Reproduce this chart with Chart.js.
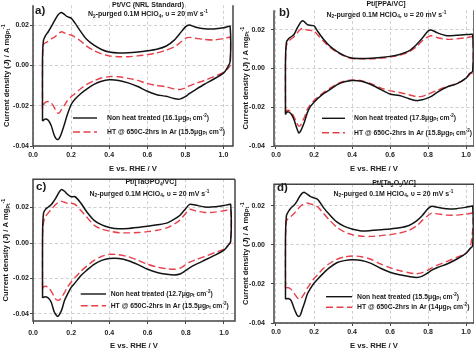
<!DOCTYPE html>
<html>
<head>
<meta charset="utf-8">
<script src="https://cdn.jsdelivr.net/npm/chart.js@4.4.1/dist/chart.umd.min.js"></script>
<style>
  html, body { margin: 0; padding: 0; background: #fff; }
  #wrap { position: relative; width: 474px; height: 349px; overflow: hidden; background: #fff; }
  #wrap canvas { position: absolute; }
</style>
</head>
<body>
<div id="wrap">
  <canvas id="pa" width="237" height="174" style="left:0px;top:0px"></canvas>
  <canvas id="pb" width="237" height="174" style="left:237px;top:0px"></canvas>
  <canvas id="pc" width="237" height="175" style="left:0px;top:174px"></canvas>
  <canvas id="pd" width="237" height="175" style="left:237px;top:174px"></canvas>
</div>
<script>
// Potential grid (V vs RHE) shared by the anodic and cathodic sweeps
const potential = [0.05, 0.055, 0.065, 0.08, 0.095, 0.11, 0.12, 0.13, 0.14, 0.15, 0.165, 0.18, 0.2, 0.22, 0.25, 0.28, 0.32, 0.36, 0.4, 0.45, 0.5, 0.55, 0.6, 0.65, 0.7, 0.74, 0.77, 0.8, 0.82, 0.85, 0.9, 0.95, 1.0, 1.02, 1.035];

// Current density (A mg_Pt^-1): anodic (positive-going) and cathodic (negative-going) sweeps
// Pt/VC (NRL Standard)
const vcNhtAnodic   = [0.004, 0.0125, 0.0148, 0.0168, 0.0192, 0.0218, 0.0235, 0.025, 0.026, 0.0264, 0.0254, 0.0243, 0.0236, 0.0212, 0.017, 0.0132, 0.0101, 0.008, 0.0067, 0.0062, 0.0063, 0.0067, 0.0073, 0.0081, 0.0097, 0.0125, 0.0158, 0.0192, 0.0201, 0.0192, 0.0183, 0.0182, 0.0188, 0.0193, 0.0195];
const vcNhtCathodic = [-0.0276, -0.0272, -0.0266, -0.0272, -0.0297, -0.0343, -0.0362, -0.0368, -0.0358, -0.0335, -0.0292, -0.0245, -0.0195, -0.0168, -0.014, -0.0118, -0.0094, -0.0078, -0.0071, -0.0074, -0.0086, -0.0104, -0.0128, -0.0145, -0.0153, -0.0164, -0.0167, -0.0155, -0.014, -0.0122, -0.0093, -0.0067, -0.0038, -0.0012, 0.002];
const vcHtAnodic    = [0.002, 0.0105, 0.0113, 0.012, 0.0132, 0.014, 0.0147, 0.0157, 0.0164, 0.0168, 0.0162, 0.0155, 0.0152, 0.0142, 0.0122, 0.0098, 0.0074, 0.0058, 0.0048, 0.0044, 0.0044, 0.0048, 0.0054, 0.0063, 0.0077, 0.0092, 0.0112, 0.0135, 0.014, 0.0136, 0.013, 0.0127, 0.0134, 0.0138, 0.0141];
const vcHtCathodic  = [-0.0215, -0.0195, -0.0183, -0.0179, -0.0185, -0.0205, -0.0225, -0.0237, -0.0233, -0.0218, -0.0198, -0.0175, -0.0155, -0.014, -0.0115, -0.0095, -0.0076, -0.0062, -0.0055, -0.0056, -0.0064, -0.0074, -0.009, -0.0099, -0.0106, -0.0116, -0.0119, -0.0111, -0.0101, -0.009, -0.0074, -0.0055, -0.0034, -0.0018, 0.0];

// Pt/[PPA/VC]
const ppaNhtAnodic   = [0.004, 0.0135, 0.0152, 0.0163, 0.0175, 0.0205, 0.0222, 0.0238, 0.0246, 0.024, 0.0226, 0.0222, 0.022, 0.019, 0.015, 0.0118, 0.0088, 0.0066, 0.0054, 0.0051, 0.0052, 0.0056, 0.0062, 0.0072, 0.009, 0.0123, 0.0156, 0.0192, 0.0197, 0.0183, 0.0168, 0.0171, 0.0175, 0.0175, 0.0175];
const ppaNhtCathodic = [-0.0238, -0.0228, -0.0224, -0.0235, -0.0265, -0.031, -0.0333, -0.0322, -0.03, -0.0275, -0.0228, -0.0198, -0.0175, -0.0155, -0.013, -0.0112, -0.0085, -0.0069, -0.0062, -0.0066, -0.0083, -0.0108, -0.0132, -0.014, -0.0156, -0.0166, -0.0162, -0.0152, -0.0143, -0.0122, -0.0096, -0.008, -0.005, -0.0025, -0.0015];
const ppaHtAnodic    = [0.003, 0.0118, 0.0138, 0.0152, 0.0163, 0.018, 0.0193, 0.0202, 0.0206, 0.0203, 0.0197, 0.0196, 0.0193, 0.0172, 0.014, 0.0112, 0.0084, 0.0063, 0.0051, 0.0049, 0.0049, 0.0053, 0.0059, 0.0068, 0.0085, 0.0112, 0.0143, 0.0163, 0.0168, 0.0158, 0.015, 0.0152, 0.0158, 0.0162, 0.0163];
const ppaHtCathodic  = [-0.023, -0.022, -0.0216, -0.0225, -0.025, -0.0282, -0.0297, -0.0292, -0.027, -0.025, -0.021, -0.0188, -0.0165, -0.0148, -0.0124, -0.0105, -0.008, -0.0066, -0.0059, -0.0063, -0.0079, -0.01, -0.0116, -0.0124, -0.0136, -0.0145, -0.0144, -0.0133, -0.0125, -0.0112, -0.0094, -0.0078, -0.0052, -0.003, -0.0022];

// Pt/[TaOPO4/VC]
const taopoNhtAnodic   = [0.005, 0.0168, 0.019, 0.0203, 0.0216, 0.0238, 0.0255, 0.0275, 0.0292, 0.0302, 0.0292, 0.0275, 0.0261, 0.0261, 0.0226, 0.0178, 0.0128, 0.0102, 0.0088, 0.008, 0.0082, 0.0088, 0.0095, 0.0103, 0.0112, 0.0135, 0.0157, 0.0195, 0.0218, 0.0214, 0.0203, 0.0204, 0.0212, 0.0216, 0.0217];
const taopoNhtCathodic = [-0.031, -0.0306, -0.0303, -0.031, -0.0333, -0.0385, -0.0405, -0.0414, -0.04, -0.0378, -0.0325, -0.029, -0.025, -0.0225, -0.0185, -0.0155, -0.012, -0.0098, -0.0088, -0.0088, -0.01, -0.0122, -0.0148, -0.0166, -0.0176, -0.018, -0.0175, -0.0155, -0.014, -0.0122, -0.0096, -0.007, -0.004, -0.0015, 0.001];
const taopoHtAnodic    = [0.003, 0.0115, 0.015, 0.017, 0.019, 0.0207, 0.0218, 0.0228, 0.0233, 0.0235, 0.023, 0.0224, 0.0224, 0.0218, 0.0185, 0.0148, 0.01, 0.0078, 0.0067, 0.0058, 0.0057, 0.0059, 0.0064, 0.0072, 0.0085, 0.0107, 0.013, 0.0168, 0.019, 0.0182, 0.0172, 0.0174, 0.0182, 0.0187, 0.0188];
const taopoHtCathodic  = [-0.0258, -0.0248, -0.0244, -0.025, -0.0272, -0.03, -0.0318, -0.0323, -0.032, -0.0305, -0.028, -0.025, -0.022, -0.0195, -0.016, -0.0132, -0.0098, -0.0075, -0.0064, -0.0066, -0.0078, -0.0098, -0.012, -0.0136, -0.0145, -0.0148, -0.0142, -0.0122, -0.0108, -0.0095, -0.0076, -0.0055, -0.0035, -0.0015, 0.0005];

// Pt/[Ta2O5/VC]
const ta2o5NhtAnodic   = [0.004, 0.015, 0.017, 0.019, 0.0202, 0.0222, 0.024, 0.0255, 0.0265, 0.0268, 0.0258, 0.0248, 0.024, 0.0232, 0.019, 0.0156, 0.0117, 0.0094, 0.0081, 0.0071, 0.0073, 0.0077, 0.0081, 0.0087, 0.0099, 0.0122, 0.015, 0.0185, 0.0197, 0.0192, 0.0184, 0.0185, 0.0192, 0.0196, 0.0198];
const ta2o5NhtCathodic = [-0.0278, -0.0276, -0.0275, -0.0285, -0.0325, -0.0358, -0.0367, -0.0355, -0.0325, -0.0298, -0.0252, -0.0225, -0.0197, -0.0175, -0.0145, -0.0118, -0.0092, -0.0081, -0.0077, -0.008, -0.0095, -0.012, -0.014, -0.0153, -0.0162, -0.0167, -0.016, -0.0143, -0.013, -0.0116, -0.0098, -0.0074, -0.0044, -0.002, -0.0005];
const ta2o5HtAnodic    = [0.003, 0.0122, 0.0135, 0.0146, 0.016, 0.0176, 0.0188, 0.0198, 0.0206, 0.021, 0.0214, 0.0209, 0.0204, 0.0194, 0.016, 0.0128, 0.009, 0.0066, 0.0052, 0.0044, 0.0043, 0.0047, 0.0052, 0.006, 0.0074, 0.0097, 0.0125, 0.015, 0.0162, 0.0158, 0.0152, 0.0152, 0.0157, 0.016, 0.0162];
const ta2o5HtCathodic  = [-0.0222, -0.022, -0.0219, -0.0228, -0.0248, -0.0268, -0.0277, -0.0276, -0.0263, -0.0248, -0.0222, -0.02, -0.0172, -0.0152, -0.012, -0.0097, -0.0074, -0.0062, -0.0057, -0.0061, -0.0074, -0.0098, -0.0117, -0.0132, -0.0143, -0.0148, -0.0142, -0.0129, -0.0118, -0.0104, -0.0085, -0.0065, -0.0042, -0.0022, 0.0075];

// Pt loadings (ug_Pt cm^-2) quoted in the legends
const nhtLoading = ['16.1', '17.8', '12.7', '15.5'];
const htLoading  = ['15.5', '15.8', '15.5', '14'];

// Tick values
const potentialTicks = [0.0, 0.2, 0.4, 0.6, 0.8, 1.0];
const currentTicks   = [-0.04, -0.02, 0.0, 0.02];

// Catalyst names as rich-text runs: [text, kind]
const catalystNames = [
  [['Pt/VC (NRL Standard)', 'n']],
  [['Pt/[PPA/VC]', 'n']],
  [['Pt/[TaOPO', 'n'], ['4', 'sub'], ['/VC]', 'n']],
  [['Pt/[Ta', 'n'], ['2', 'sub'], ['O', 'n'], ['5', 'sub'], ['/VC]', 'n']]
];
const panelTags = ['a)', 'b)', 'c)', 'd)'];
const conditions = [['N', 'n'], ['2', 'sub'], ['-purged 0.1M HClO', 'n'], ['4', 'sub'], [', \u03c5 = 20 mV s', 'n'], ['-1', 'sup']];
const yTitle = [['Current density (', 'n'], ['J', 'i'], [') / A mg', 'n'], ['Pt', 'sub'], ['-1', 'sup']];

// Closed voltammogram: lower-left corner, anodic sweep, then cathodic sweep back
function cvLoop(anodic, cathodic) {
  const pts = [{ x: potential[0], y: cathodic[0] }];
  for (let i = 0; i < potential.length; i++) pts.push({ x: potential[i], y: anodic[i] });
  for (let i = potential.length - 1; i >= 0; i--) pts.push({ x: potential[i], y: cathodic[i] });
  return pts;
}

const FONT = '"Liberation Sans", Arial, Helvetica, sans-serif';
const BLACK = '#141414';
const RED = '#e8404a';
const RED_DASH = [7, 3.5];

function runFont(kind, size) {
  const s = (kind === 'sub' || kind === 'sup') ? size * 0.68 : size;
  return (kind === 'i' ? 'italic ' : '') + 'bold ' + s + 'px ' + FONT;
}
function drawRich(ctx, runs, x, y, size, align) {
  let w = 0;
  runs.forEach(([t, k]) => { ctx.font = runFont(k, size); w += ctx.measureText(t).width; });
  let cx = align === 'center' ? x - w / 2 : x;
  ctx.textAlign = 'left';
  ctx.textBaseline = 'middle';
  runs.forEach(([t, k]) => {
    ctx.font = runFont(k, size);
    const dy = k === 'sub' ? size * 0.28 : (k === 'sup' ? -size * 0.36 : 0);
    ctx.fillText(t, cx, y + dy);
    cx += ctx.measureText(t).width;
  });
}

// Panel layout (page coordinates for annotations)
const panels = [
  { id: 'pa', ox: 0, oy: 0, pad: { left: 0, top: 0, right: 4, bottom: 0 }, yW: 33, xH: 28, topEdge: false,
    xMin: 0, xMax: 1.05, yMin: -0.04, yMax: 0.03, yTickPad: 1, xTickPad: 2, xTitlePad: 0,
    nht: [vcNhtAnodic, vcNhtCathodic], ht: [vcHtAnodic, vcHtCathodic],
    tag: [35, 11], name: [148, 5], cond: [148, 14.5], yTitleX: 6.5,
    legend: { x1: 73, x2: 97, tx: 107, y1: 118, y2: 132 } },
  { id: 'pb', ox: 237, oy: 0, pad: { left: 0, top: 0, right: 0, bottom: 0 }, yW: 37, xH: 28, topEdge: false,
    xMin: -0.0105, xMax: 1.042, yMin: -0.04, yMax: 0.03, yTickPad: 6, xTickPad: 2, xTitlePad: 0,
    nht: [ppaNhtAnodic, ppaNhtCathodic], ht: [ppaHtAnodic, ppaHtCathodic],
    tag: [279, 12.5], name: [386, 4.5], cond: [386.5, 15], yTitleX: 245.5,
    legend: { x1: 322, x2: 345, tx: 354, y1: 118.3, y2: 132.7 } },
  { id: 'pc', ox: 0, oy: 174, pad: { left: 0, top: 1, right: 2, bottom: 0 }, yW: 33, xH: 28, topEdge: true,
    xMin: 0, xMax: 1.0576, yMin: -0.044, yMax: 0.036, yTickPad: 1, xTickPad: 5, xTitlePad: -2,
    nht: [taopoNhtAnodic, taopoNhtCathodic], ht: [taopoHtAnodic, taopoHtCathodic],
    tag: [36, 187], name: [151, 182.3], cond: [149.5, 194], yTitleX: 6,
    legend: { x1: 80.7, x2: 106, tx: 110.7, y1: 294, y2: 305.7 } },
  { id: 'pd', ox: 237, oy: 174, pad: { left: 0, top: 0, right: 0, bottom: 0 }, yW: 37, xH: 26, topEdge: true,
    xMin: -0.0105, xMax: 1.042, yMin: -0.04, yMax: 0.031, yTickPad: 6, xTickPad: 2, xTitlePad: -2,
    nht: [ta2o5NhtAnodic, ta2o5NhtCathodic], ht: [ta2o5HtAnodic, ta2o5HtCathodic],
    tag: [277, 187.5], name: [394, 183.3], cond: [393.5, 194], yTitleX: 245.5,
    legend: { x1: 326, x2: 352, tx: 357, y1: 296.7, y2: 307.3 } }
];

panels.forEach((p, idx) => {
  const decor = {
    id: 'decor',
    afterDatasetsDraw(chart) {
      const ctx = chart.ctx;
      const a = chart.chartArea;
      ctx.save();
      // plot frame
      ctx.strokeStyle = '#444';
      ctx.lineWidth = 1.5;
      ctx.setLineDash([]);
      ctx.beginPath();
      if (p.topEdge) {
        ctx.moveTo(a.right, a.top); ctx.lineTo(a.left, a.top);
      } else {
        ctx.moveTo(a.left, a.top);
      }
      ctx.lineTo(a.left, a.bottom);
      ctx.lineTo(a.right, a.bottom);
      ctx.lineTo(a.right, a.top);
      ctx.stroke();
      ctx.translate(-p.ox, -p.oy);
      ctx.fillStyle = '#1a1a1a';
      // panel tag
      ctx.font = 'bold 11.5px ' + FONT;
      ctx.textAlign = 'left';
      ctx.textBaseline = 'middle';
      ctx.fillText(panelTags[idx], p.tag[0], p.tag[1]);
      // catalyst and conditions
      drawRich(ctx, catalystNames[idx], p.name[0], p.name[1], 7, 'center');
      drawRich(ctx, conditions, p.cond[0], p.cond[1], 7, 'center');
      // legend
      const L = p.legend;
      ctx.lineWidth = 1.4;
      ctx.strokeStyle = BLACK;
      ctx.beginPath(); ctx.moveTo(L.x1, L.y1); ctx.lineTo(L.x2, L.y1); ctx.stroke();
      ctx.strokeStyle = RED;
      ctx.setLineDash(RED_DASH);
      ctx.beginPath(); ctx.moveTo(L.x1, L.y2); ctx.lineTo(L.x2, L.y2); ctx.stroke();
      ctx.setLineDash([]);
      drawRich(ctx, [['Non heat treated (' + nhtLoading[idx] + '\u03bcg', 'n'], ['Pt', 'sub'], [' cm', 'n'], ['-2', 'sup'], [')', 'n']], L.tx, L.y1, 6.8, 'left');
      drawRich(ctx, [['HT @ 650C-2hrs in Ar (' + htLoading[idx] + '\u03bcg', 'n'], ['Pt', 'sub'], [' cm', 'n'], ['-2', 'sup'], [')', 'n']], L.tx, L.y2, 6.8, 'left');
      // y-axis title
      const cy = p.oy + (a.top + a.bottom) / 2;
      ctx.translate(p.yTitleX, cy);
      ctx.rotate(-Math.PI / 2);
      drawRich(ctx, yTitle, 0, 0, 7.6, 'center');
      ctx.restore();
    }
  };

  new Chart(document.getElementById(p.id), {
    type: 'line',
    data: {
      datasets: [
        { label: 'Non heat treated', data: cvLoop(p.nht[0], p.nht[1]), borderColor: BLACK, borderWidth: 1.5, pointRadius: 0, fill: false, tension: 0.25 },
        { label: 'HT @ 650C-2hrs in Ar', data: cvLoop(p.ht[0], p.ht[1]), borderColor: RED, borderWidth: 1.4, borderDash: RED_DASH, pointRadius: 0, fill: false, tension: 0.25 }
      ]
    },
    options: {
      responsive: false,
      animation: false,
      devicePixelRatio: 1,
      layout: { padding: p.pad, autoPadding: false },
      plugins: { legend: { display: false }, tooltip: { enabled: false } },
      scales: {
        x: {
          type: 'linear', min: p.xMin, max: p.xMax,
          afterFit(s) { s.height = p.xH; },
          afterBuildTicks(s) { s.ticks = potentialTicks.map(v => ({ value: v })); },
          grid: { color: '#cfcfcf', lineWidth: 1, tickLength: 3, tickColor: '#444', tickWidth: 1, tickBorderDash: [] },
          border: { display: false, dash: [3, 2.5] },
          ticks: { autoSkip: false, maxRotation: 0, padding: p.xTickPad, color: '#222',
                   font: { family: FONT, size: 7, weight: 'bold' }, callback: v => v.toFixed(1) },
          title: { display: true, text: 'E vs. RHE / V', color: '#222', padding: { top: 0, bottom: p.xTitlePad },
                   font: { family: FONT, size: 7.7, weight: 'bold', lineHeight: 1.2 } }
        },
        y: {
          type: 'linear', min: p.yMin, max: p.yMax,
          afterFit(s) { s.width = p.yW; },
          afterBuildTicks(s) { s.ticks = currentTicks.map(v => ({ value: v })); },
          grid: { color: '#cfcfcf', lineWidth: 1, tickLength: 3, tickColor: '#444', tickWidth: 1, tickBorderDash: [] },
          border: { display: false, dash: [3, 2.5] },
          ticks: { autoSkip: false, padding: p.yTickPad, color: '#222',
                   font: { family: FONT, size: 7, weight: 'bold' }, callback: v => v.toFixed(2) }
        }
      }
    },
    plugins: [decor]
  });
});
</script>
</body>
</html>
